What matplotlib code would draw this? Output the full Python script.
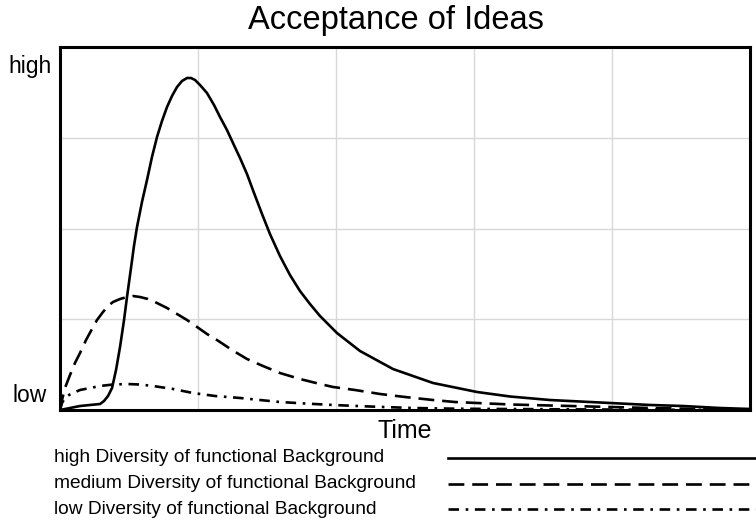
import matplotlib
matplotlib.use('Agg')
import matplotlib.pyplot as plt
from matplotlib.lines import Line2D

plt.rcParams['font.family'] = ['Liberation Sans', 'DejaVu Sans']

# values (time 0..100, acceptance 0..100)
t_high = [0, 1.45, 2.90, 4.35, 5.80, 6.38, 6.96, 7.54, 8.12, 8.70, 9.28, 9.71, 10.29, 10.72,
          11.16, 11.88, 12.61, 13.33, 14.06, 14.78, 15.51, 16.23, 16.96, 17.68, 18.41, 18.99,
          19.57, 20.29, 21.30, 22.32, 23.19, 24.20, 25.07, 26.09, 27.10, 28.12, 29.28, 30.43,
          31.88, 33.33, 34.78, 36.23, 37.68, 40.14, 43.48, 48.26, 54.06, 60.43, 65.22, 71.01,
          79.71, 85.51, 90.29, 95.65, 100]
v_high = [0, 0.55, 1.10, 1.38, 1.65, 2.48, 3.86, 6.06, 11.02, 17.36, 24.79, 31.13, 39.12, 45.18,
          50.41, 57.30, 63.36, 69.70, 75.21, 79.61, 83.47, 86.50, 88.98, 90.63, 91.46, 91.46,
          90.91, 89.53, 87.33, 84.02, 80.72, 77.13, 73.55, 69.42, 65.01, 59.78, 53.99, 48.48,
          42.42, 37.19, 32.78, 29.20, 25.90, 21.21, 16.25, 11.29, 7.44, 4.96, 3.72, 2.75,
          1.93, 1.38, 1.10, 0.55, 0.28]

t_med = [0, 0.29, 0.72, 1.45, 2.17, 2.90, 3.77, 4.64, 5.36, 6.23, 6.96, 7.68, 8.70, 9.71,
         10.58, 11.59, 12.75, 14.06, 15.51, 16.96, 18.41, 19.86, 21.30, 22.75, 24.93, 27.10,
         29.42, 31.88, 34.78, 37.68, 39.57, 42.75, 46.38, 50.00, 54.06, 57.25, 60.43, 65.22,
         71.01, 79.71, 85.51, 92.75, 100]
v_med = [0, 2.75, 6.06, 9.64, 12.95, 15.70, 19.28, 22.31, 24.79, 27.00, 28.65, 29.75, 30.58,
         31.13, 31.40, 31.13, 30.58, 29.48, 28.10, 26.45, 24.79, 22.87, 20.94, 19.28, 16.53,
         14.05, 12.12, 10.19, 8.54, 7.16, 6.34, 5.51, 4.41, 3.58, 2.75, 2.20, 1.93, 1.52,
         1.24, 0.83, 0.55, 0.28, 0.14]

t_low = [0, 0.29, 0.72, 1.30, 1.88, 2.90, 4.35, 5.80, 7.68, 9.71, 11.59, 13.48, 16.38, 19.28,
         22.46, 26.09, 28.99, 31.88, 35.51, 39.57, 44.93, 51.16, 57.25, 63.77, 78.26, 100]
v_low = [0, 1.93, 3.31, 4.13, 4.68, 5.51, 6.06, 6.61, 7.02, 7.16, 7.02, 6.61, 5.79, 4.68,
         3.86, 3.31, 2.75, 2.20, 1.79, 1.38, 0.96, 0.55, 0.36, 0.28, 0.14, 0]

labels = ['high Diversity of functional Background',
          'medium Diversity of functional Background',
          'low Diversity of functional Background']

W, H = 756, 523


def fx(px):
    return px / W


def fy(py):
    return 1 - py / H


def main():
    fig = plt.figure(figsize=(7.56, 5.23), dpi=100)
    ax = fig.add_axes([fx(60), fy(410), fx(750) - fx(60), fy(47) - fy(410)])

    lw = 1.9
    styles = [dict(linestyle='-'),
              dict(linestyle=(0, (6, 3))),
              dict(linestyle=(0, (4, 2.5, 1, 2.5)))]
    for t, v, st in zip([t_high, t_med, t_low], [v_high, v_med, v_low], styles):
        ax.plot(t, v, color='black', lw=lw, solid_joinstyle='round', **st)

    ax.set_xlim(0, 100)
    ax.set_ylim(0, 100)
    ax.set_xticks([20, 40, 60, 80])
    ax.set_yticks([25, 50, 75])
    ax.tick_params(length=0, labelbottom=False, labelleft=False)
    ax.grid(True, color='#d8d8d8', lw=1)
    ax.set_axisbelow(True)
    for s in ax.spines.values():
        s.set_linewidth(2.2)
        s.set_color('black')

    fig.text(fx(396), fy(21), 'Acceptance of Ideas', ha='center', va='center', fontsize=23.5)
    fig.text(fx(405), fy(431), 'Time', ha='center', va='center', fontsize=18)
    fig.text(fx(52), fy(66), 'high', ha='right', va='center', fontsize=16.5)
    fig.text(fx(47), fy(395), 'low', ha='right', va='center', fontsize=16.5)

    rows = [458, 484, 509]
    for lab, row, st in zip(labels, rows, styles):
        fig.text(fx(54), fy(row), lab, ha='left', va='center', fontsize=13.8)
        fig.add_artist(Line2D([fx(448), fx(756)], [fy(row), fy(row)], color='black',
                              lw=lw, transform=fig.transFigure, **st))

    fig.savefig('out.png', dpi=100)


if __name__ == '__main__':
    main()
